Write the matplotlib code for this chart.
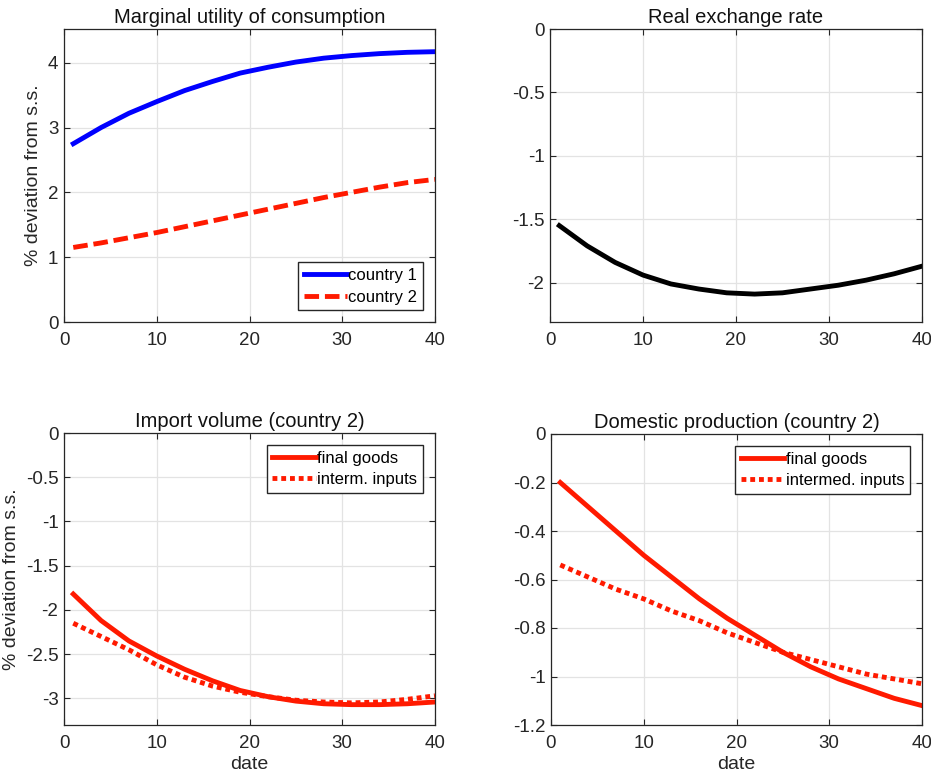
import matplotlib
matplotlib.use("Agg")
import matplotlib.pyplot as plt
from matplotlib.ticker import FuncFormatter

plt.rcParams['font.family'] = ['Liberation Sans', 'DejaVu Sans']
plt.rcParams['axes.unicode_minus'] = False

dates = [1, 4, 7, 10, 13, 16, 19, 22, 25, 28, 31, 34, 37, 40]

mu_country1 = [2.75, 3.00, 3.22, 3.40, 3.57, 3.71, 3.84, 3.93, 4.01, 4.07, 4.11, 4.14, 4.16, 4.17]
mu_country2 = [1.15, 1.22, 1.30, 1.38, 1.47, 1.56, 1.65, 1.74, 1.83, 1.92, 2.00, 2.08, 2.15, 2.20]
rer = [-1.55, -1.71, -1.84, -1.94, -2.01, -2.05, -2.08, -2.09, -2.08, -2.05, -2.02, -1.98, -1.93, -1.87]
imp_final = [-1.82, -2.12, -2.35, -2.52, -2.67, -2.80, -2.91, -2.98, -3.03, -3.06, -3.07, -3.07, -3.06, -3.04]
imp_interm = [-2.15, -2.30, -2.45, -2.62, -2.76, -2.86, -2.93, -2.98, -3.02, -3.04, -3.05, -3.04, -3.01, -2.97]
dom_final = [-0.20, -0.30, -0.40, -0.50, -0.59, -0.68, -0.76, -0.83, -0.90, -0.96, -1.01, -1.05, -1.09, -1.12]
dom_interm = [-0.54, -0.59, -0.64, -0.68, -0.73, -0.77, -0.82, -0.86, -0.90, -0.93, -0.96, -0.99, -1.01, -1.03]

titles = ["Marginal utility of consumption", "Real exchange rate",
          "Import volume (country 2)", "Domestic production (country 2)"]
ylabel = "% deviation from s.s."
xlabel = "date"

W, H = 931, 783
fig = plt.figure(figsize=(W / 100, H / 100), dpi=100)

def rect(l, t, r, b):
    return [l / W, 1 - b / H, (r - l) / W, (b - t) / H]

ax1 = fig.add_axes(rect(64, 29, 435, 322))
ax2 = fig.add_axes(rect(550, 29, 922, 322))
ax3 = fig.add_axes(rect(64, 433, 435, 725))
ax4 = fig.add_axes(rect(551, 434, 922, 725))

fmt = FuncFormatter(lambda v, p: ("%g" % round(v, 6)))
tc = '#262626'

def style(ax, title, ylim, yticks):
    ax.set_xlim(0, 40)
    ax.set_xticks([0, 10, 20, 30, 40])
    ax.set_ylim(*ylim)
    ax.set_yticks(yticks)
    ax.yaxis.set_major_formatter(fmt)
    ax.grid(True, color='#e3e3e3', linewidth=0.9)
    ax.set_axisbelow(True)
    ax.tick_params(direction='in', top=True, right=True, labelsize=13.5,
                   colors=tc, length=4, width=0.8)
    ax.tick_params(axis='x', pad=7)
    ax.tick_params(axis='y', pad=4)
    for s in ax.spines.values():
        s.set_color(tc)
        s.set_linewidth(0.9)
    ax.set_title(title, fontsize=14.5, color='#111111', pad=4)

leg_kw = dict(fontsize=12, fancybox=False, edgecolor=tc, framealpha=1,
              handlelength=2.6, handletextpad=0.1, borderpad=0.35,
              labelspacing=0.4, borderaxespad=0.7)

ax1.plot(dates, mu_country1, color='#0000ff', lw=3.5, label='country 1')
ax1.plot(dates, mu_country2, color='#ff1a00', lw=3.5, ls=(0, (3, 1.2)), label='country 2')
style(ax1, titles[0], (0, 4.52), [0, 1, 2, 3, 4])
ax1.set_ylabel(ylabel, fontsize=14, color=tc, labelpad=4)
ax1.legend(loc='lower right', **leg_kw)

ax2.plot(dates, rer, color='black', lw=3.5)
style(ax2, titles[1], (-2.31, 0), [-2, -1.5, -1, -0.5, 0])

ax3.plot(dates, imp_final, color='#ff1a00', lw=3.5, label='final goods')
ax3.plot(dates, imp_interm, color='#ff1a00', lw=3.5, ls=(0, (1, 0.8)), label='interm. inputs')
style(ax3, titles[2], (-3.3, 0), [-3, -2.5, -2, -1.5, -1, -0.5, 0])
ax3.set_ylabel(ylabel, fontsize=14, color=tc, labelpad=4)
ax3.set_xlabel(xlabel, fontsize=14, color=tc, labelpad=3)
ax3.legend(loc='upper right', **leg_kw)

ax4.plot(dates, dom_final, color='#ff1a00', lw=3.5, label='final goods')
ax4.plot(dates, dom_interm, color='#ff1a00', lw=3.5, ls=(0, (1, 0.8)), label='intermed. inputs')
style(ax4, titles[3], (-1.2, 0), [-1.2, -1, -0.8, -0.6, -0.4, -0.2, 0])
ax4.set_xlabel(xlabel, fontsize=14, color=tc, labelpad=3)
ax4.legend(loc='upper right', **leg_kw)

fig.savefig("out.png", dpi=100, facecolor='white')
